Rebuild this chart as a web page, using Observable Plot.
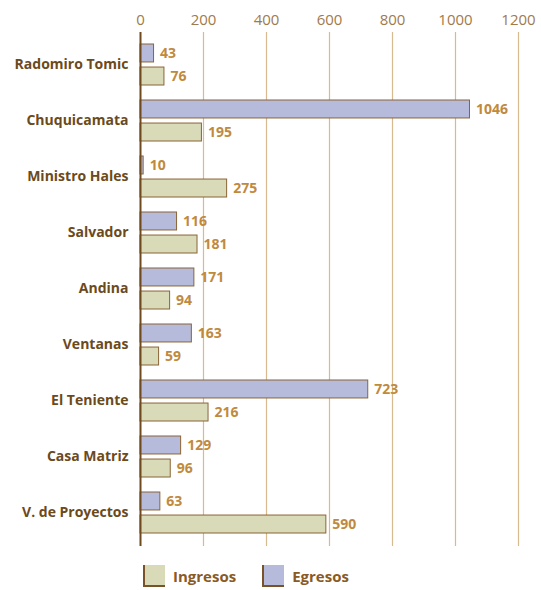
<!DOCTYPE html>
<html>
<head>
<meta charset="utf-8">
<script src="https://cdn.jsdelivr.net/npm/d3@7"></script>
<script src="https://cdn.jsdelivr.net/npm/@observablehq/plot@0.6"></script>
<style>
  body { margin: 0; background: #fff; font-family: "Open Sans", sans-serif; }
  #legend { display: flex; align-items: center; margin-top: 15px; padding-left: 143px; font-weight: bold; font-size: 15px; color: #8a5a24; }
  .item { display: flex; align-items: center; margin-right: 26px; }
  .sw { width: 20px; height: 20px; border-left: 2px solid #7a5228; border-bottom: 2px solid #7a5228; margin-right: 8px; }
</style>
</head>
<body>
<div id="chart"></div>
<div id="legend"></div>
<script>
const categories = ["Radomiro Tomic", "Chuquicamata", "Ministro Hales", "Salvador", "Andina", "Ventanas", "El Teniente", "Casa Matriz", "V. de Proyectos"];
const egresos = [43, 1046, 10, 116, 171, 163, 723, 129, 63];
const ingresos = [76, 195, 275, 181, 94, 59, 216, 96, 590];
const xTicks = [0, 200, 400, 600, 800, 1000, 1200];
const seriesNames = ["Ingresos", "Egresos"];
const seriesColors = ["#d8dab8", "#b6bbdc"];

const width = 541, height = 550, marginTop = 32, marginBottom = 4;
const padInner = 0.26, padOuter = 0.15;
const step = (height - marginTop - marginBottom) / (categories.length - padInner + 2 * padOuter);
const bw = step * (1 - padInner);
const half = bw / 2;

const egData = categories.map((c, i) => ({category: c, value: egresos[i]}));
const inData = categories.map((c, i) => ({category: c, value: ingresos[i]}));

const chart = Plot.plot({
  width, height, marginTop, marginBottom, marginLeft: 140, marginRight: 23,
  style: {fontFamily: "Open Sans, sans-serif", background: "#fff"},
  x: {domain: [0, 1200], axis: "top", ticks: xTicks, tickFormat: d => String(d), tickSize: 0, tickPadding: 8, label: null},
  y: {domain: categories, paddingInner: padInner, paddingOuter: padOuter, label: null, tickSize: 0, tickPadding: 12},
  marks: [
    Plot.ruleX(xTicks.filter(d => d > 0), {stroke: "#d9b98e", strokeWidth: 1.2}),
    Plot.barX(egData, {x: "value", y: "category", fill: seriesColors[1], stroke: "#8a6436", strokeWidth: 1, insetBottom: half + 2}),
    Plot.barX(inData, {x: "value", y: "category", fill: seriesColors[0], stroke: "#8a6436", strokeWidth: 1, insetTop: half + 2}),
    Plot.text(egData, {x: "value", y: "category", text: d => String(d.value), dx: 6, dy: -half / 2 - 1, textAnchor: "start", fill: "#c08a3e", fontWeight: "bold", fontSize: 14}),
    Plot.text(inData, {x: "value", y: "category", text: d => String(d.value), dx: 6, dy: half / 2 + 1, textAnchor: "start", fill: "#c08a3e", fontWeight: "bold", fontSize: 14}),
    Plot.ruleX([0], {stroke: "#6e4a1e", strokeWidth: 2})
  ]
});
document.getElementById("chart").appendChild(chart);

const svg = d3.select(chart);
svg.selectAll("[aria-label='x-axis tick label']").attr("fill", "#a07a4c").attr("font-size", 15);
svg.selectAll("[aria-label='y-axis tick label']").attr("fill", "#6b4a1c").attr("font-size", 14).attr("font-weight", "bold");

const legend = document.getElementById("legend");
seriesNames.forEach((n, i) => {
  const item = document.createElement("div");
  item.className = "item";
  const sw = document.createElement("div");
  sw.className = "sw";
  sw.style.background = seriesColors[i];
  const t = document.createElement("span");
  t.textContent = n;
  item.appendChild(sw); item.appendChild(t);
  legend.appendChild(item);
});
</script>
</body>
</html>
